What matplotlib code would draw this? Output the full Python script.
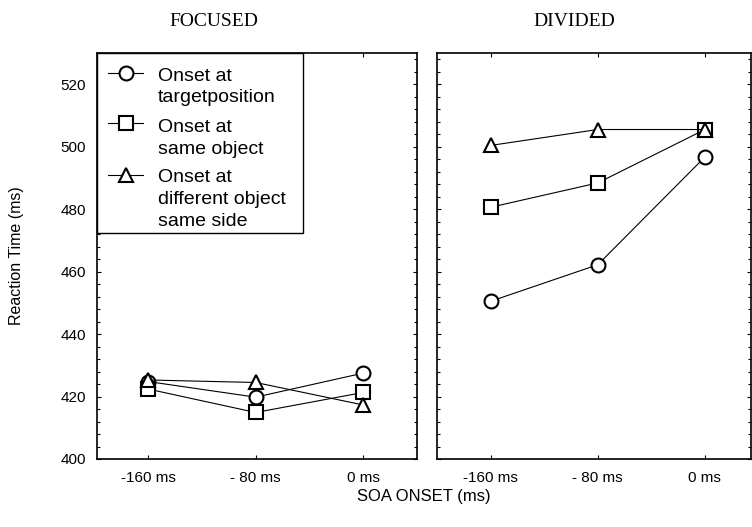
import matplotlib
matplotlib.use("Agg")
import matplotlib.pyplot as plt
from matplotlib.ticker import MultipleLocator
from matplotlib.patches import Rectangle

categories = ["-160 ms", "- 80 ms", "0 ms"]
focused_target = [424.8, 419.8, 427.5]
focused_same = [422.4, 414.9, 421.3]
focused_diff = [425.3, 424.5, 417.3]
divided_target = [450.5, 462.2, 496.7]
divided_same = [480.6, 488.4, 505.5]
divided_diff = [500.4, 505.5, 505.5]
labels = ["Onset at\ntargetposition", "Onset at\nsame object", "Onset at\ndifferent object\nsame side"]
markers = ["o", "s", "^"]

sans = "Liberation Sans"
serif = "Liberation Serif"
W, H = 752, 527

fig = plt.figure(figsize=(7.52, 5.27), dpi=100)
AX1 = (97, 53, 417, 459)   # left, top, right, bottom in pixels
AX2 = (437, 53, 751, 459)


def add_axes(b):
    l, t, r, bt = b
    return fig.add_axes([l / W, 1 - bt / H, (r - l) / W, (bt - t) / H])


ax1 = add_axes(AX1)
ax2 = add_axes(AX2)


def msize(m):
    return 9.5 if m == "^" else 10


x = list(range(len(categories)))
panels = [(ax1, [focused_target, focused_same, focused_diff], (-0.475, 2.5)),
          (ax2, [divided_target, divided_same, divided_diff], (-0.5, 2.43))]
for ax, series, xl in panels:
    for vals, m in zip(series, markers):
        ax.plot(x, vals, color="black", lw=0.8, marker=m, ms=msize(m),
                mfc="white", mec="black", mew=1.5, zorder=3, clip_on=False)
    ax.set_xlim(*xl)
    ax.set_ylim(400, 530)
    ax.set_xticks(x)
    ax.set_xticklabels(categories, fontfamily=sans, fontsize=11)
    ax.yaxis.set_major_locator(MultipleLocator(20))
    ax.yaxis.set_minor_locator(MultipleLocator(4))
    ax.tick_params(axis="both", which="both", direction="in", top=True, right=True,
                   length=3, width=0.8)
    ax.tick_params(axis="x", pad=9)
    ax.tick_params(axis="y", which="minor", length=2)
    for s in ax.spines.values():
        s.set_linewidth(1.2)

ax1.set_yticks([400, 420, 440, 460, 480, 500, 520])
for t in ax1.get_yticklabels():
    t.set_fontfamily(sans)
    t.set_fontsize(11)
ax1.tick_params(axis="y", pad=8)
ax2.set_yticklabels([])

fig.text(214 / W, 1 - 22 / H, "FOCUSED", ha="center", va="center", fontfamily=serif, fontsize=14)
fig.text(574 / W, 1 - 22 / H, "DIVIDED", ha="center", va="center", fontfamily=serif, fontsize=14)

# manual legend (pixel layout inside the left panel)
def to_ax(px, py):
    l, t, r, b = AX1
    return (px - l) / (r - l), (b - py) / (b - t)

x0, y0 = to_ax(97, 53)
x1, y1 = to_ax(303, 233)
ax1.add_patch(Rectangle((x0, y1), x1 - x0, y0 - y1, transform=ax1.transAxes,
                        facecolor="white", edgecolor="black", lw=1.0, zorder=5, clip_on=False))
marker_y = [73, 123, 175]
first_line_y = [76.5, 127.5, 178]
line_step = 21.5
for lab, m, my, ly in zip(labels, markers, marker_y, first_line_y):
    ax_a = to_ax(108, my)
    ax_b = to_ax(143, my)
    ax1.plot([ax_a[0], ax_b[0]], [ax_a[1], ax_b[1]], color="black", lw=0.8,
             transform=ax1.transAxes, zorder=6, clip_on=False)
    mc = to_ax(126, my)
    ax1.plot([mc[0]], [mc[1]], marker=m, ms=msize(m), mfc="white", mec="black", mew=1.5,
             transform=ax1.transAxes, zorder=7, clip_on=False)
    for i, line in enumerate(lab.split("\n")):
        tx, ty = to_ax(158, ly + i * line_step)
        ax1.text(tx, ty, line, transform=ax1.transAxes, ha="left", va="center",
                 fontfamily=sans, fontsize=14, zorder=7)

fig.text(17 / W, 1 - 256 / H, "Reaction Time (ms)", rotation=90, ha="center", va="center",
         fontfamily=sans, fontsize=11.5)
fig.text(424 / W, 1 - 497 / H, "SOA ONSET (ms)", ha="center", va="center",
         fontfamily=sans, fontsize=12)

fig.savefig("out.png", dpi=100)
